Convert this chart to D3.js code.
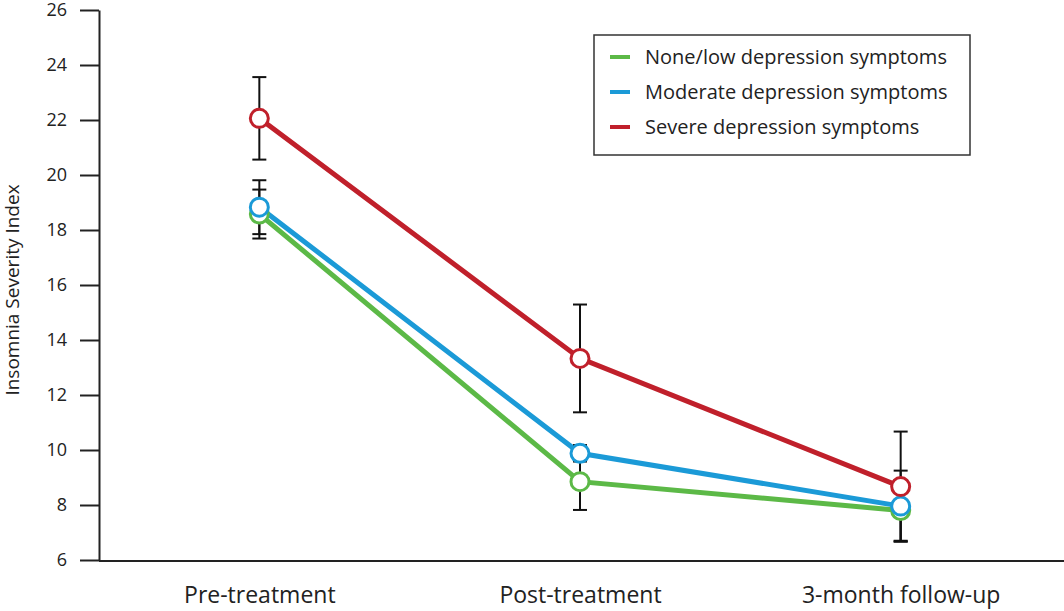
<!DOCTYPE html>
<html>
<head>
<meta charset="utf-8">
<script src="https://cdn.jsdelivr.net/npm/d3@7"></script>
<style>
  body { margin: 0; background: #fff; }
  text { font-family: "Open Sans", sans-serif; fill: #222; }
</style>
</head>
<body>
<div id="chart"></div>
<script>
// data
const timepoints = ["Pre-treatment", "Post-treatment", "3-month follow-up"];
const groups = ["None/low depression symptoms", "Moderate depression symptoms", "Severe depression symptoms"];
const colors = ["#5cb947", "#1b9ad7", "#c0202b"];
const noneLow = [18.58, 8.85, 7.80];
const noneLowErr = [0.89, 1.03, 1.10];
const moderate = [18.83, 9.88, 7.96];
const moderateErr = [0.98, 0.30, 1.29];
const severe = [22.06, 13.33, 8.67];
const severeErr = [1.50, 1.96, 2.00];
const yTicks = [6, 8, 10, 12, 14, 16, 18, 20, 22, 24, 26];

const series = [
    { name: groups[0], color: colors[0], values: noneLow, err: noneLowErr },
    { name: groups[1], color: colors[1], values: moderate, err: moderateErr },
    { name: groups[2], color: colors[2], values: severe, err: severeErr }
];

const margin = {top: 10, right: 0, bottom: 51, left: 99},
    width = 1064 - margin.left - margin.right,
    height = 611 - margin.top - margin.bottom;

const svg = d3.select("#chart")
    .append("svg")
        .attr("width", 1064)
        .attr("height", 611)
    .append("g")
        .attr("transform", "translate(" + margin.left + "," + margin.top + ")");

const x = d3.scalePoint()
    .domain(timepoints)
    .range([0, 962])
    .padding(0.5);

const y = d3.scaleLinear()
    .domain([6, 26])
    .range([550, 0]);

// y axis
const yAxis = svg.append("g")
    .call(d3.axisLeft(y).tickValues(yTicks).tickSize(19).tickSizeOuter(0).tickPadding(13));
yAxis.select(".domain").attr("stroke", "#222").attr("stroke-width", 2);
yAxis.selectAll(".tick line").attr("stroke", "#222").attr("stroke-width", 2);
yAxis.selectAll(".tick text").style("font-size", "18px").style("font-family", "Open Sans, sans-serif").attr("fill", "#222");

// x axis
const xAxis = svg.append("g")
    .attr("transform", "translate(0," + 551 + ")")
    .call(d3.axisBottom(x).tickSize(0).tickSizeOuter(0).tickPadding(26));
xAxis.select(".domain").attr("d", "M0,0H" + width).attr("stroke", "#222").attr("stroke-width", 2);
xAxis.selectAll(".tick text").style("font-size", "23px").style("font-family", "Open Sans, sans-serif").attr("fill", "#222");

// y axis title
svg.append("text")
    .attr("transform", "translate(" + (-80) + "," + 280 + ") rotate(-90)")
    .attr("text-anchor", "middle")
    .style("font-size", "19px")
    .text("Insomnia Severity Index");

const line = d3.line()
    .x((d, i) => x(timepoints[i]))
    .y(d => y(d));

// lines
series.forEach(function(s) {
    svg.append("path")
        .datum(s.values)
        .attr("fill", "none")
        .attr("stroke", s.color)
        .attr("stroke-width", 5)
        .attr("d", line);
});

// error bars
series.forEach(function(s) {
    const g = svg.append("g").attr("stroke", "#111").attr("stroke-width", 2);
    s.values.forEach(function(v, i) {
        const cx = x(timepoints[i]);
        g.append("line")
            .attr("x1", cx).attr("x2", cx)
            .attr("y1", y(v + s.err[i])).attr("y2", y(v - s.err[i]));
        [v + s.err[i], v - s.err[i]].forEach(function(e) {
            g.append("line")
                .attr("x1", cx - 7).attr("x2", cx + 7)
                .attr("y1", y(e)).attr("y2", y(e));
        });
    });
});

// markers
series.forEach(function(s) {
    svg.selectAll(null)
        .data(s.values)
        .enter().append("circle")
        .attr("cx", (d, i) => x(timepoints[i]))
        .attr("cy", d => y(d))
        .attr("r", 9)
        .attr("fill", "#fff")
        .attr("stroke", s.color)
        .attr("stroke-width", 3);
});

// legend
const legend = svg.append("g")
    .attr("transform", "translate(" + (594 - margin.left) + "," + (35 - margin.top) + ")");

legend.append("rect")
    .attr("width", 376)
    .attr("height", 120)
    .attr("fill", "#fff")
    .attr("stroke", "#333")
    .attr("stroke-width", 1.5);

const items = legend.selectAll(".legend")
    .data(series)
    .enter().append("g")
    .attr("class", "legend")
    .attr("transform", (d, i) => "translate(0," + (22 + i * 35) + ")");

items.append("line")
    .attr("x1", 16).attr("x2", 36)
    .attr("stroke", d => d.color)
    .attr("stroke-width", 4);

items.append("text")
    .attr("x", 51)
    .attr("dy", ".35em")
    .style("font-size", "20px")
    .text(d => d.name);
</script>
</body>
</html>
